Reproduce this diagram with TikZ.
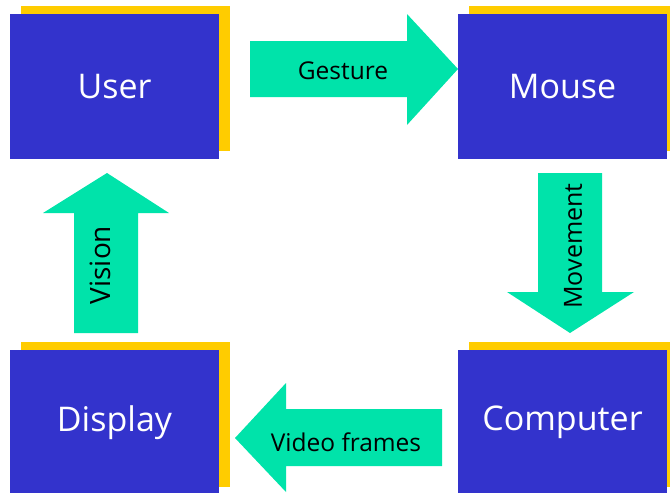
\documentclass[tikz,border=0pt]{standalone}
\usepackage{fontspec}
\setmainfont{Open Sans}
\usetikzlibrary{shadows}
\definecolor{boxblue}{RGB}{51,51,204}
\definecolor{shadowgold}{RGB}{255,204,0}
\definecolor{arrowgreen}{RGB}{0,227,170}
\tikzset{
  stagebox/.style={fill=boxblue, text=white, minimum width=209pt, minimum height=145pt,
    inner sep=0pt, font=\fontsize{34}{40}\selectfont,
    general shadow={fill=shadowgold, shadow xshift=11pt, shadow yshift=8pt}},
  flowarrow/.style={fill=arrowgreen},
  flowlabel/.style={text=black, inner sep=0pt, font=\fontsize{24.5}{29}\selectfont}
}
\begin{document}
\begin{tikzpicture}[x=1pt, y=-1pt]
  \useasboundingbox (0,0) rectangle (670,493);

  % the four stages
  \node[stagebox] (user)     at (114.5, 86.5)  {User};
  \node[stagebox] (mouse)    at (562.5, 86.5)  {Mouse};
  \node[stagebox] (display)  at (114.5, 422.5) {Display};
  \node[stagebox] (computer) at (562.5, 422.5) {Computer};

  % block arrows between the stages
  \fill[flowarrow] (250,41) -- (407,41) -- (407,14) -- (458,69) -- (407,125) -- (407,97) -- (250,97) -- cycle;
  \node[flowlabel] (gesture) at (343,71) {Gesture};

  \fill[flowarrow] (538,173) -- (602,173) -- (602,292) -- (634,292) -- (570,333) -- (507,292) -- (538,292) -- cycle;
  \node[flowlabel, rotate=90, font=\fontsize{25}{30}\selectfont] (movement) at (573,246) {Movement};

  \fill[flowarrow] (442,409) -- (286,409) -- (286,383) -- (235,438) -- (286,492) -- (286,466) -- (442,466) -- cycle;
  \node[flowlabel] (video) at (346,442) {Video frames};

  \fill[flowarrow] (74,333) -- (74,213) -- (43,213) -- (107,173) -- (169,213) -- (138,213) -- (138,333) -- cycle;
  \node[flowlabel, rotate=90, font=\fontsize{28}{33}\selectfont] (vision) at (100.5,265) {Vision};
\end{tikzpicture}
\end{document}
